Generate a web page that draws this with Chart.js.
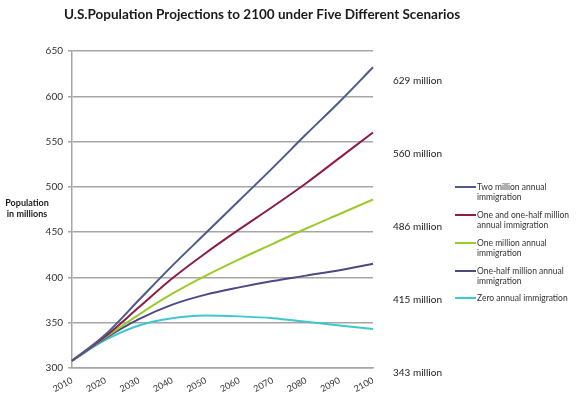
<!DOCTYPE html>
<html>
<head>
<meta charset="utf-8">
<script src="https://cdn.jsdelivr.net/npm/chart.js@4"></script>
<style>
	html, body { margin: 0; padding: 0; background: #fff; }
	#wrap { width: 580px; height: 396px; }
</style>
</head>
<body>
<div id="wrap"><canvas id="myChart" width="580" height="396"></canvas></div>
<script>
// decade labels on the x axis
const years = ["2010", "2020", "2030", "2040", "2050", "2060", "2070", "2080", "2090", "2100"];

// population in millions
const twoMillion = [308, 337, 375, 413, 449, 485, 521, 558, 594, 632];
const oneAndHalfMillion = [308, 335, 367, 399, 427, 453, 478, 504, 532, 560];
const oneMillion = [308, 334, 359, 382, 402, 420, 437, 454, 470, 486];
const halfMillion = [308, 333, 354, 370, 381, 389, 396, 402, 408, 415];
const zeroImmigration = [308, 331, 347, 355, 358, 357, 355, 351, 347, 343];

const seriesNames = [
	["Two million annual", "immigration"],
	["One and one-half million", "annual immigration"],
	["One million annual", "immigration"],
	["One-half million annual", "immigration"],
	["Zero annual immigration"],
];
const seriesColors = ["#4c5a8c", "#8c1c4c", "#9acb2e", "#4b4a84", "#3ec7cf"];

// totals printed to the right of the plot
const endLabels = ["629 million", "560 million", "486 million", "415 million", "343 million"];

const yTicks = [300, 350, 400, 450, 500, 550, 600, 650];

const FONT = "Lato, 'Open Sans', sans-serif";

// title, y axis caption, right hand labels and legend
const extras = {
	id: "extras",
	afterDraw(chart) {
		const ctx = chart.ctx;
		ctx.save();
		ctx.fillStyle = "#1a1a1a";
		ctx.textBaseline = "middle";

		ctx.font = "bold 13.5px " + FONT;
		ctx.textAlign = "center";
		ctx.fillText("U.S.Population Projections to 2100 under Five Different Scenarios", 262, 15);

		ctx.font = "bold 9px " + FONT;
		ctx.fillText("Population", 27, 203);
		ctx.fillText("in millions", 27, 214);

		ctx.textAlign = "left";
		ctx.font = "10px " + FONT;
		endLabels.forEach((t, i) => {
			ctx.fillText(t, 393, 81 + i * 73);
		});

		ctx.font = "8.5px " + FONT;
		ctx.fillStyle = "#333";
		const itemY = [187, 215, 243, 271, 298];
		seriesNames.forEach((lines, i) => {
			ctx.strokeStyle = seriesColors[i];
			ctx.lineWidth = 2;
			ctx.beginPath();
			ctx.moveTo(455, itemY[i]);
			ctx.lineTo(476, itemY[i]);
			ctx.stroke();
			lines.forEach((t, j) => {
				ctx.fillText(t, 477, itemY[i] + j * 10.5);
			});
		});
		ctx.restore();
	},
};

const series = [twoMillion, oneAndHalfMillion, oneMillion, halfMillion, zeroImmigration];

const ctx = document.getElementById("myChart").getContext("2d");
const chart = new Chart(ctx, {
	type: "line",
	data: {
		labels: years,
		datasets: series.map((s, i) => ({
			label: seriesNames[i].join(" "),
			data: s,
			fill: false,
			borderColor: seriesColors[i],
			borderWidth: 2,
			pointRadius: 0,
			tension: 0.4,
			cubicInterpolationMode: "monotone",
		})),
	},
	options: {
		responsive: false,
		animation: false,
		layout: { padding: { left: 0, right: 207, top: 51, bottom: 0 } },
		plugins: {
			legend: { display: false },
			tooltip: { enabled: false },
		},
		scales: {
			x: {
				offset: false,
				afterFit: (scale) => { scale.height = 28; },
				grid: { display: false, drawTicks: true, tickLength: 4, color: "#a6a6a6" },
				border: { color: "#a6a6a6", width: 1.5 },
				ticks: {
					minRotation: 28,
					maxRotation: 28,
					color: "#333",
					font: { family: FONT, size: 9 },
					padding: 3,
				},
			},
			y: {
				min: 300,
				max: 650,
				afterFit: (scale) => { scale.width = 72; },
				afterBuildTicks: (scale) => { scale.ticks = yTicks.map((v) => ({ value: v })); },
				grid: { color: "#a6a6a6", lineWidth: 1.5, tickLength: 4 },
				border: { color: "#a6a6a6", width: 1.5 },
				ticks: {
					color: "#333",
					font: { family: FONT, size: 10 },
					padding: 5,
				},
			},
		},
	},
	plugins: [extras],
});
</script>
</body>
</html>
